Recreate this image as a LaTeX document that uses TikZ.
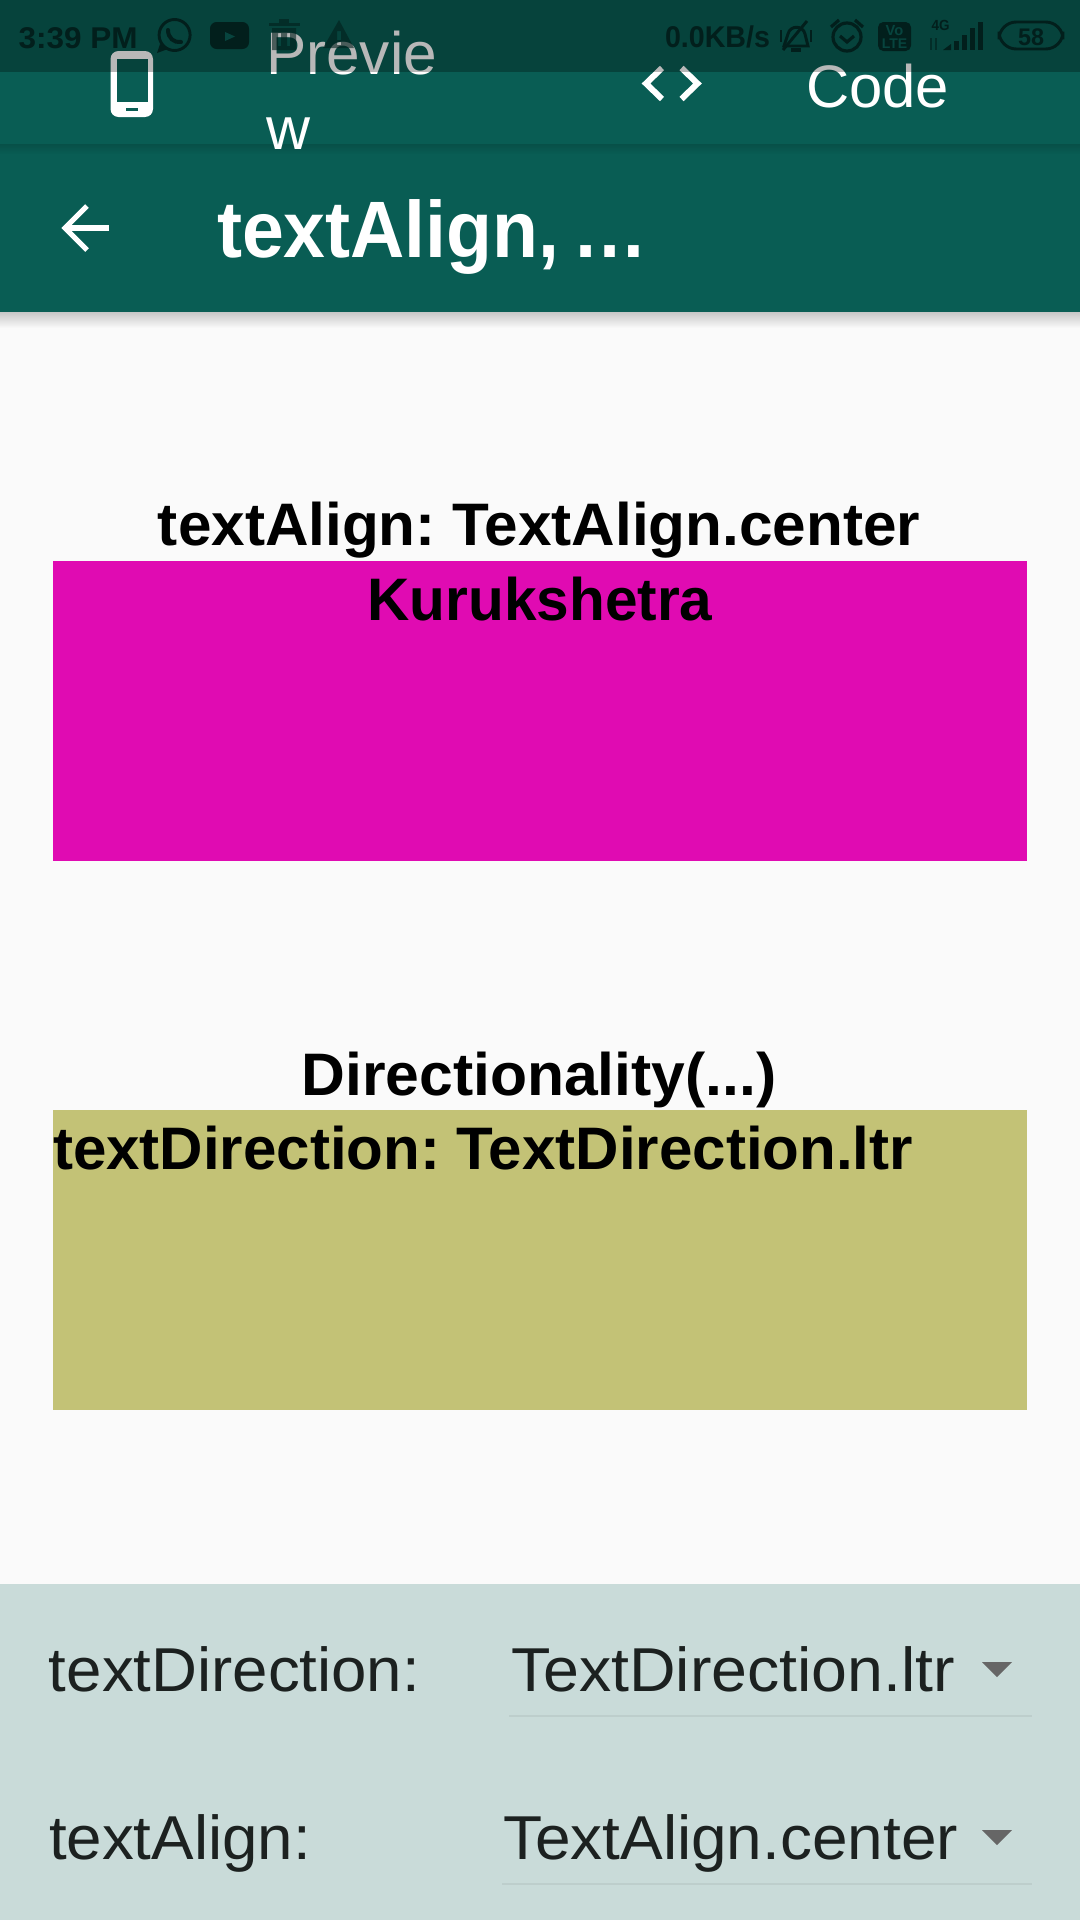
\documentclass[tikz,border=0pt]{standalone}
\usepackage{fontspec}
\usepackage{graphicx}
\setmainfont{Liberation Sans}
\definecolor{pagebg}{HTML}{FAFAFA}
\definecolor{barc}{HTML}{095D54}
\definecolor{magc}{HTML}{E00BB2}
\definecolor{khak}{HTML}{C3C276}
\definecolor{panelc}{HTML}{C9DBD9}
\definecolor{inkc}{HTML}{1C2120}
\definecolor{rulec}{HTML}{BDCECC}
\definecolor{caretc}{HTML}{666666}
\definecolor{statusc}{HTML}{07443E}
\definecolor{iconc}{HTML}{021F1C}
\newcommand\fitw[2]{\resizebox{#1\dimexpr0.75pt\relax}{\height}{#2}}
\newcommand\tsp{\spaceskip=0.18em\relax}
\tikzset{
  lbl/.style={inner sep=0pt,outer sep=0pt,anchor=base west},
  lblc/.style={inner sep=0pt,outer sep=0pt,anchor=base},
  tab/.style={lbl,text=white,font=\fontsize{45}{50}\selectfont},
  heading/.style={text=black,font=\fontsize{45}{50}\selectfont\bfseries},
  field/.style={lbl,text=inkc,font=\fontsize{46.5}{50}\selectfont},
  caret/.style={fill=caretc,draw=none},
  rulel/.style={draw=rulec,line width=1.8pt},
  white line/.style={draw=white,line cap=butt,line join=miter},
  stat/.style={text=iconc,font=\fontsize{22.5}{24}\selectfont\bfseries},
  iconl/.style={draw=iconc,line width=2.2pt,fill=none},
  iconf/.style={fill=iconc,draw=none},
}
\begin{document}
\begin{tikzpicture}[x=0.75pt,y=-0.75pt]
\useasboundingbox (0,0) rectangle (1080,1920);
\fill[pagebg] (0,0) rectangle (1080,1920);
% shadow under app bar
\shade[top color=black!22,bottom color=pagebg] (0,312) rectangle (1080,328);
% app bars
\fill[barc] (0,0) rectangle (1080,312);
\shade[top color=black!70!barc,bottom color=barc,opacity=.2] (0,144) rectangle (1080,154);
% boxes
\fill[magc] (53,561) rectangle (1027,861);
\fill[khak] (53,1110) rectangle (1027,1410);
\fill[panelc] (0,1584) rectangle (1080,1920);
% tab bar
\fill[white,rounded corners=6pt] (110.5,51) rectangle (153,117);
\fill[barc] (117,59) rectangle (148,102);
\fill[barc] (126,108) rectangle (137.5,111);
\node[tab] (prev1) at (266,74) {\fitw{171}{Previe}};
\node[tab] (prev2) at (266,149) {\fitw{44}{w}};
\draw[white line,line width=4.5pt] (662,68) -- (646,83.5) -- (662,99);
\draw[white line,line width=4.5pt] (681.5,68) -- (697.5,83.5) -- (681.5,99);
\node[tab] (code) at (806,107) {\fitw{143}{Code}};
% status overlay
\fill[black,opacity=.28] (0,0) rectangle (1080,72);
% app bar contents
\draw[white line,line width=3.8pt] (109,228) -- (64,228);
\draw[white line,line width=3.8pt] (87,206) -- (65,228) -- (87,250);
\node[lbl,text=white,font=\fontsize{60}{66}\selectfont\bfseries] (title) at (217,257) {\tsp\fitw{431}{textAlign, …}};
% status bar left
\node[lbl,stat] (clock) at (18.6,48) {\fitw{119}{3:39 PM}};
\draw[iconl] (174.6,35) circle (15.5);
\fill[iconc] (160,44) -- (157,53) -- (168,49) -- cycle;
\draw[iconl,line cap=round,line width=3pt] (168,30) .. controls (168,38) and (174,43) .. (181,42);
\path[iconf,rounded corners=5pt] (210,22) rectangle (249,49);
\fill[statusc] (225,32) -- (235,36.5) -- (225,41) -- cycle;
\begin{scope}[opacity=.6]
\fill[iconc] (268.6,23) rectangle (299.6,26);
\fill[iconc] (279,19) rectangle (289,23);
\path[fill=iconc,even odd rule] (272,28) rectangle (296,50) (278,33) rectangle (281,46) (287,33) rectangle (290,46);
\path[fill=iconc,even odd rule] (339,20) -- (354,48) -- (323,48) -- cycle (337,31) rectangle (341,40) (337,42) rectangle (341,45);
\end{scope}
% status bar right
\node[lbl,stat] (speed) at (665,47) {\fitw{105}{0.0KB/s}};
\draw[iconl] (784,46) -- (788,34) .. controls (790,25) and (803,25) .. (805,34) -- (808,46) -- cycle;
\fill[iconc] (791,48) rectangle (801,52);
\draw[iconl] (783,50) -- (807,21);
\draw[iconl] (781,30) -- (781,42) (811,30) -- (811,42);
\draw[iconl,line width=2.4pt] (847,37) circle (14);
\draw[iconl,line width=2.4pt] (840,36) -- (847,42) -- (854,36);
\draw[iconl,line width=2.4pt] (831,27) -- (839,20) (863,27) -- (855,20);
\path[iconf,rounded corners=4pt] (878,22) rectangle (911,51);
\node[lblc,text=statusc,font=\fontsize{11}{12}\selectfont\bfseries] (vo) at (894.5,35) {Vo};
\node[lblc,text=statusc,font=\fontsize{10.5}{12}\selectfont\bfseries] (lte) at (894.5,48) {LTE};
\node[lbl,text=iconc,font=\fontsize{11}{12}\selectfont\bfseries] (fourg) at (931.5,30) {\fitw{18}{4G}};
\draw[draw=iconc,line width=1.2pt,opacity=.6] (931,38) -- (931,50) (936,38) -- (936,50);
\fill[iconc] (943,50) -- (951,44) -- (951,50) -- cycle;
\fill[iconc] (954,41) rectangle (959,50);
\fill[iconc] (962,35) rectangle (967,50);
\fill[iconc] (970,28) rectangle (975,50);
\fill[iconc] (978,22) rectangle (983,50);
\draw[iconl,rounded corners=13pt] (999,22) rectangle (1063,49);
\node[lblc,text=iconc,font=\fontsize{18}{20}\selectfont\bfseries] (batt) at (1031,45) {\fitw{26}{58}};
% headings
\node[lblc,heading] (h1) at (539,545) {\tsp\fitw{762}{textAlign: TextAlign.center}};
\node[lblc,heading] (t1) at (540,620) {\fitw{345}{Kurukshetra}};
\node[lblc,heading] (h2) at (539,1095) {\fitw{475}{Directionality(...)}};
\node[lbl,heading] (t2) at (53,1169) {\tsp\fitw{860}{textDirection: TextDirection.ltr}};
% controls
\node[field] (l1) at (49,1691) {\fitw{371}{textDirection:}};
\node[field] (v1) at (511,1691) {\fitw{444}{TextDirection.ltr}};
\fill[caret] (982,1662) -- (1012,1662) -- (997,1677) -- cycle;
\draw[rulel] (509,1716) -- (1032,1716);
\node[field] (l2) at (49,1859) {\fitw{262}{textAlign:}};
\node[field] (v2) at (503,1859) {\fitw{455}{TextAlign.center}};
\fill[caret] (982,1830) -- (1012,1830) -- (997,1845) -- cycle;
\draw[rulel] (502,1884) -- (1032,1884);
\end{tikzpicture}
\end{document}
